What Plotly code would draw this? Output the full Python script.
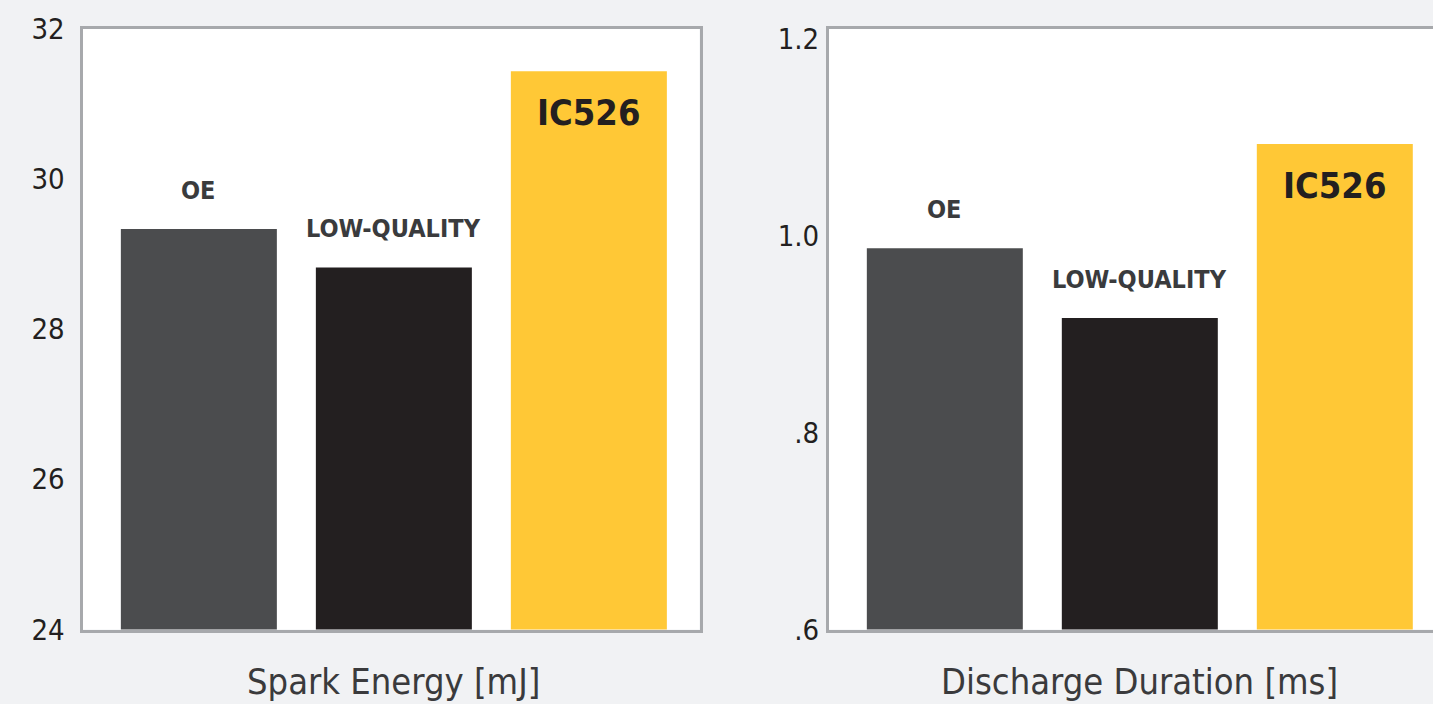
import plotly.graph_objects as go

# ---- data ----
categories = ["OE", "LOW-QUALITY", "IC526"]
spark_energy = [29.33, 28.82, 31.43]          # mJ
discharge_duration = [0.9875, 0.9166, 1.0935]  # ms
bar_colors = ["#4b4c4e", "#231f20", "#ffc836"]

left_ticks = [24, 26, 28, 30, 32]
left_ticktext = ["24", "26", "28", "30", "32"]
right_ticks = [0.6, 0.8, 1.0, 1.2]
right_ticktext = [".6", ".8", "1.0", "1.2"]

left_title = "Spark Energy [mJ]"
right_title = "Discharge Duration [ms]"

W, H = 1433, 704
BG = "#f1f2f4"
BORDER = "#a7a9ac"
FONT = "'DejaVu Sans Condensed', 'Liberation Sans Narrow', 'Roboto Condensed', sans-serif"

fig = go.Figure()
fig.add_trace(go.Bar(x=categories, y=spark_energy, marker=dict(color=bar_colors, line=dict(width=0)),
                     width=0.8, xaxis="x", yaxis="y", showlegend=False, hoverinfo="skip"))
fig.add_trace(go.Bar(x=categories, y=discharge_duration, marker=dict(color=bar_colors, line=dict(width=0)),
                     width=0.8, xaxis="x2", yaxis="y2", showlegend=False, hoverinfo="skip"))

annotations = []
for xref, yref, vals in [("x", "y", spark_energy), ("x2", "y2", discharge_duration)]:
    for i, (c, v) in enumerate(zip(categories, vals)):
        if i == 2:
            annotations.append(dict(x=c, y=v, xref=xref, yref=yref, text="<b>%s</b>" % c,
                                    showarrow=False, yanchor="middle", yshift=-41,
                                    font=dict(family=FONT, size=36, color="#231f20")))
        else:
            annotations.append(dict(x=c, y=v, xref=xref, yref=yref, text="<b>%s</b>" % c,
                                    showarrow=False, yanchor="middle", yshift=39,
                                    font=dict(family=FONT, size=25, color="#3a3b3d")))

for xref, yref, t in [("x", "y domain", left_title), ("x2", "y2 domain", right_title)]:
    annotations.append(dict(x=categories[1], y=0, xref=xref, yref=yref, text=t, showarrow=False,
                            yanchor="middle", yshift=-52,
                            font=dict(family=FONT, size=36, color="#3a3a3c")))

axis_common = dict(showgrid=False, zeroline=False, linecolor=BORDER, linewidth=3, automargin=False)

fig.update_layout(
    width=W, height=H,
    margin=dict(l=0, r=0, t=0, b=0, autoexpand=False),
    paper_bgcolor=BG, plot_bgcolor="white",
    bargap=0.2,
    font=dict(family=FONT, color="#231f20"),
    xaxis=dict(domain=[82.5 / W, 699.5 / W], range=[-0.5967, 2.5674], showticklabels=False,
               showline=True, mirror=True, anchor="y", **axis_common),
    yaxis=dict(domain=[(H - 629.5) / H, (H - 28.5) / H], range=[24, 32], tickvals=left_ticks,
               ticktext=left_ticktext, showline=True, mirror=True, anchor="x",
               ticks="", ticklabelstandoff=9,
               tickfont=dict(family=FONT, size=29, color="#231f20"), **axis_common),
    xaxis2=dict(domain=[829 / W, 1.0], range=[-0.594, 2.5036], showticklabels=False,
                showline=True, mirror=True, anchor="y2", **axis_common),
    yaxis2=dict(domain=[(H - 629.5) / H, (H - 28.5) / H], range=[0.6, 1.2109], tickvals=right_ticks,
                ticktext=right_ticktext, showline=True, mirror=False, anchor="x2",
                ticks="", ticklabelstandoff=1,
                tickfont=dict(family=FONT, size=29, color="#231f20"), **axis_common),
    annotations=annotations,
)

fig.write_html("out.html")
